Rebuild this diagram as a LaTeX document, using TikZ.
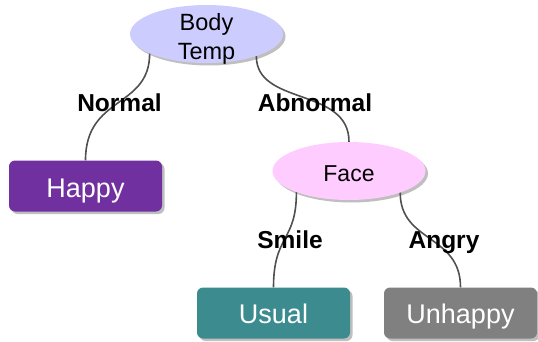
\documentclass[tikz,border=0pt]{standalone}
\usepackage{fontspec}
\setmainfont{Liberation Sans}
\usetikzlibrary{shapes.geometric,shadows}
\definecolor{tempfill}{RGB}{204,204,255}
\definecolor{facefill}{RGB}{255,204,255}
\definecolor{happyfill}{RGB}{112,48,160}
\definecolor{usualfill}{RGB}{59,139,143}
\definecolor{unhappyfill}{RGB}{128,128,128}
\definecolor{linkcol}{RGB}{80,80,80}
\begin{document}
\begin{tikzpicture}[x=1pt,y=-1pt,
  shadowed/.style={drop shadow={shadow xshift=2.5pt,shadow yshift=-2.5pt,fill=black,opacity=0.25}},
  testnode/.style={ellipse, shadowed, minimum width=153pt, minimum height=58pt, inner sep=0pt},
  leaf/.style={rectangle, rounded corners=6pt, shadowed, minimum width=153pt, minimum height=51pt, inner sep=0pt, text=white, font=\fontsize{27}{30}\selectfont, text height=21pt, text depth=0pt},
  edgelabel/.style={font=\bfseries\fontsize{24.5}{28}\selectfont, anchor=base, inner sep=0pt},
  link/.style={draw=linkcol, line width=1.6pt}
]
\useasboundingbox (0,0) rectangle (538,342);
% nodes
\node[testnode, fill=tempfill] (bt) at (206.5,34) {};
\node[font=\fontsize{23.5}{29}\selectfont, align=center, inner sep=0pt] (bttext) at (206.5,39) {Body\\Temp};
\node[testnode, fill=facefill, font=\fontsize{23}{26}\selectfont, text height=22pt, text depth=0pt] (face) at (349,171) {Face};
\node[leaf, fill=happyfill, text height=22pt] (happy) at (85.5,186) {Happy};
\node[leaf, fill=usualfill] (usual) at (273.5,313) {Usual};
\node[leaf, fill=unhappyfill] (unhappy) at (460.5,313) {Unhappy};
% connectors
\draw[link] (bt.-161) .. controls +(0,55) and +(0,-65) .. (happy.north);
\draw[link] (bt.-24) .. controls +(0,50) and +(0,-55) .. (face.north);
\draw[link] (face.-158) .. controls +(0,50) and +(0,-53) .. (usual.north);
\draw[link] (face.-23) .. controls +(0,50) and +(0,-53) .. (unhappy.north);
% labels
\node[edgelabel] (lnormal) at (119.5,112) {Normal};
\node[edgelabel] (labnormal) at (315,112) {Abnormal};
\node[edgelabel] (lsmile) at (290,248) {Smile};
\node[edgelabel] (langry) at (444,248) {Angry};
\end{tikzpicture}
\end{document}
